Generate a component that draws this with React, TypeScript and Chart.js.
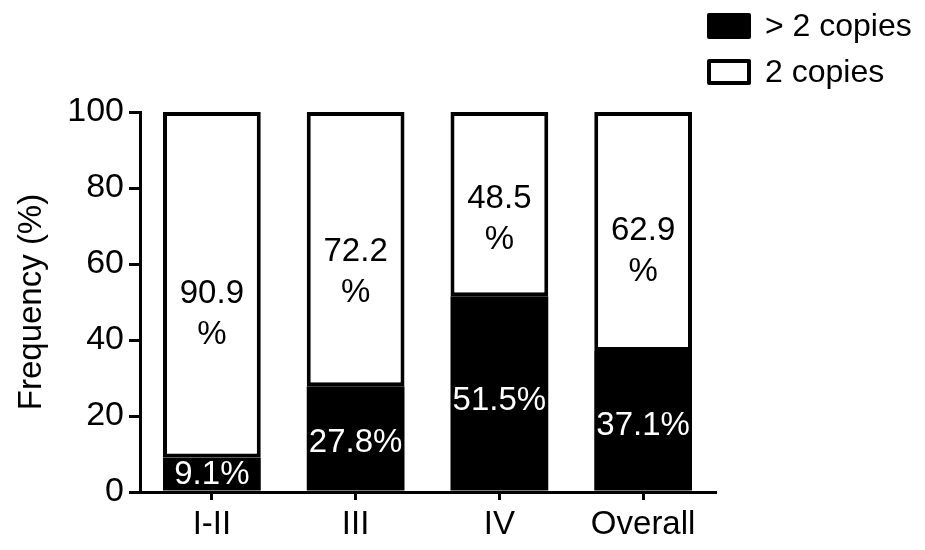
import React, { useEffect, useRef } from "react";
import { Chart, registerables } from "chart.js";

Chart.register(...registerables);

const categories = ["I-II", "III", "IV", "Overall"];
const moreThanTwoCopies = [9.1, 27.8, 51.5, 37.1];
const twoCopies = [90.9, 72.2, 48.5, 62.9];
const seriesLabels = ["> 2 copies", "2 copies"];
const yTicks = [0, 20, 40, 60, 80, 100];
const yTitle = "Frequency (%)";

const FONT = "'Liberation Sans', Arial, Helvetica, sans-serif";

const barLabels = {
  id: "barLabels",
  afterDatasetsDraw(chart: any) {
    const ctx = chart.ctx;
    ctx.save();
    ctx.font = `33px ${FONT}`;
    ctx.textAlign = "center";
    ctx.textBaseline = "middle";
    chart.data.datasets.forEach((ds: any, di: number) => {
      const meta = chart.getDatasetMeta(di);
      meta.data.forEach((bar: any, i: number) => {
        const { x, y, base } = bar.getProps(["x", "y", "base"], true);
        const txt = Number(ds.data[i]).toFixed(1);
        const h = base - y;
        if (di === 0) {
          ctx.fillStyle = "#fff";
          ctx.fillText(txt + "%", x, base - 0.46 * h);
        } else {
          ctx.fillStyle = "#000";
          const mid = y + 0.585 * h;
          ctx.fillText(txt, x, mid - 20.5);
          ctx.fillText("%", x, mid + 20.5);
        }
      });
    });
    ctx.restore();
  },
};

const sideLegend = {
  id: "sideLegend",
  afterDraw(chart: any) {
    const ctx = chart.ctx;
    ctx.save();
    ctx.font = `32px ${FONT}`;
    ctx.textBaseline = "middle";
    ctx.textAlign = "left";
    chart.data.datasets.forEach((ds: any, i: number) => {
      const cy = 18 + i * 46;
      const bx = 701;
      const bw = 40;
      const bh = 22;
      ctx.fillStyle = ds.backgroundColor;
      ctx.strokeStyle = "#000";
      ctx.lineWidth = 4;
      ctx.lineJoin = "round";
      ctx.beginPath();
      ctx.rect(bx, cy - bh / 2, bw, bh);
      ctx.fill();
      ctx.stroke();
      ctx.fillStyle = "#000";
      ctx.fillText(ds.label, 757, cy + 1);
    });
    ctx.restore();
  },
};

export default function App() {
  const ref = useRef<HTMLCanvasElement>(null);

  useEffect(() => {
    if (!ref.current) return;
    const gridOpts = {
      display: true,
      drawOnChartArea: false,
      drawTicks: true,
      tickWidth: 3,
      tickColor: "#000",
      color: "#000",
      lineWidth: 3,
    };
    const chart = new Chart(ref.current, {
      type: "bar",
      data: {
        labels: categories,
        datasets: [
          {
            label: seriesLabels[0],
            data: moreThanTwoCopies,
            backgroundColor: "#000",
            borderColor: "#000",
            borderWidth: 0,
            categoryPercentage: 1,
            barPercentage: 0.68,
          },
          {
            label: seriesLabels[1],
            data: twoCopies,
            backgroundColor: "#fff",
            borderColor: "#000",
            borderWidth: 4,
            borderSkipped: false,
            categoryPercentage: 1,
            barPercentage: 0.68,
          },
        ],
      },
      options: {
        animation: false,
        responsive: false,
        layout: { padding: { top: 104, right: 202, left: 0, bottom: 0 } },
        plugins: {
          legend: { display: false },
          tooltip: { enabled: false },
        },
        scales: {
          x: {
            stacked: true,
            offset: true,
            afterFit: (s: any) => {
              s.height = 50;
            },
            grid: { ...gridOpts, tickLength: 8, offset: false },
            border: { display: true, color: "#000", width: 3 },
            ticks: { color: "#000", font: { size: 33, family: FONT }, padding: 5 },
          },
          y: {
            stacked: true,
            min: 0,
            max: 100,
            afterFit: (s: any) => {
              s.width = 132;
            },
            afterBuildTicks: (s: any) => {
              s.ticks = yTicks.map((v) => ({ value: v }));
            },
            grid: { ...gridOpts, tickLength: 11 },
            border: { display: true, color: "#000", width: 3 },
            ticks: { color: "#000", font: { size: 34, family: FONT }, padding: 5 },
            title: {
              display: true,
              text: yTitle,
              color: "#000",
              font: { size: 33, family: FONT },
              padding: 4,
            },
          },
        },
      },
      plugins: [barLabels, sideLegend],
    });
    return () => chart.destroy();
  }, []);

  return (
    <div style={{ width: 909, height: 534 }}>
      <canvas ref={ref} width={909} height={534} style={{ display: "block" }} />
    </div>
  );
}
